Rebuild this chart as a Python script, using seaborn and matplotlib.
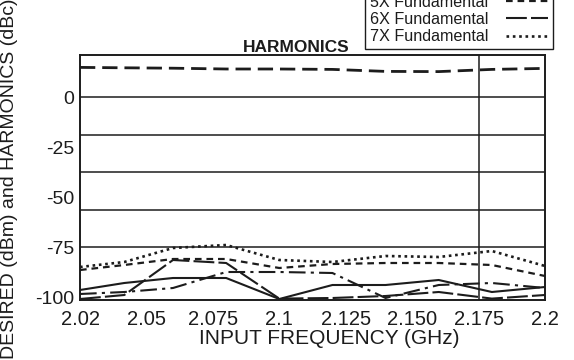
import numpy as np
import matplotlib
matplotlib.use("Agg")
import matplotlib.pyplot as plt
from matplotlib.lines import Line2D
import seaborn as sns

# Axis ticks: evenly spaced labels along the frequency axis
tick_freqs = [2.02, 2.05, 2.075, 2.1, 2.125, 2.150, 2.175, 2.2]
tick_labels = ["2.02", "2.05", "2.075", "2.1", "2.125", "2.150", "2.175", "2.2"]
y_ticks = [0, -25, -50, -75, -100]
y_tick_labels = ["0", "-25", "-50", "-75", "-100"]

# Measurement frequencies (GHz)
freq = [2.02, 2.04, 2.06, 2.08, 2.10, 2.12, 2.14, 2.16, 2.18, 2.20]

# Output levels
desired = [14.8, 14.6, 14.4, 14.0, 14.0, 13.8, 12.8, 12.7, 13.8, 14.3]
h3 = [-96.5, -93.0, -90.5, -90.5, -101.0, -94.0, -94.0, -91.5, -97.5, -95.0]
h4 = [-98.5, -97.5, -95.5, -87.5, -87.5, -88.0, -100.5, -94.0, -93.0, -95.5]
h5 = [-86.5, -84.0, -81.0, -81.0, -85.5, -83.5, -83.0, -83.0, -84.0, -89.5]
h6 = [-101.0, -99.0, -81.5, -83.0, -100.8, -100.5, -99.5, -97.5, -100.8, -99.0]
h7 = [-85.0, -82.5, -75.5, -74.0, -81.5, -82.5, -79.5, -80.0, -77.0, -84.5]

sns.set_theme(style="white")
plt.rcParams["font.family"] = ["Liberation Sans", "DejaVu Sans"]
ink = "#1c1c1c"

fig = plt.figure(figsize=(5.74, 3.6), dpi=100)
ax = fig.add_axes([80 / 574, 60 / 360, 465 / 574, 245 / 360])

# map frequencies onto the evenly spaced tick positions
tick_pos = np.arange(len(tick_freqs))
pos = np.interp(freq, tick_freqs, tick_pos)

# horizontal grid divides 0 .. -75 into four bands; one marker line at 2.175 GHz
for level in [0, -18.75, -37.5, -56.25, -75]:
    ax.axhline(level, color=ink, lw=1.1, zorder=1)
ax.axvline(6, color=ink, lw=1.1, zorder=1)

series = [
    ("Desired", desired, (0, (5.5, 2.5)), 2.0),
    ("3X Fundamental", h3, "-", 1.5),
    ("4X Fundamental", h4, (0, (8, 2.5, 1.5, 2.5)), 1.5),
    ("5X Fundamental", h5, (0, (3.0, 2.2)), 1.6),
    ("6X Fundamental", h6, (0, (10, 2.0)), 1.5),
    ("7X Fundamental", h7, (0, (1.0, 1.4)), 1.9),
]
for name, vals, ls, lw in series:
    sns.lineplot(x=pos, y=vals, ax=ax, color=ink, linewidth=lw,
                 linestyle=ls, legend=False, zorder=3)

ax.set_xlim(0, 7)
ax.set_ylim(-101.5, 21)
ax.set_xticks(tick_pos)
ax.set_xticklabels(tick_labels)
ax.set_yticks(y_ticks)
ax.set_yticklabels(y_tick_labels)
ax.tick_params(axis="x", length=0, pad=7, labelsize=14.5, labelcolor=ink)
ax.tick_params(axis="y", length=0, pad=4, labelsize=14, labelcolor=ink)
ax.set_xlabel("")
ax.set_ylabel("")
for sp in ax.spines.values():
    sp.set_color(ink)
    sp.set_linewidth(1.4)

fig.text(329.5 / 574, 1 - 338 / 360, "INPUT FREQUENCY (GHz)", ha="center",
         va="center", fontsize=15, color=ink)
fig.text(10 / 574, 1 - 179 / 360, "DESIRED (dBm) and HARMONICS (dBc)",
         rotation=90, ha="center", va="center", fontsize=14, color=ink)
fig.text(296.5 / 574, 1 - 47 / 360, "HARMONICS", ha="center", va="center",
         fontsize=12.5, fontweight="bold", color=ink)

handles = [Line2D([], [], color=ink, lw=lw, linestyle=ls) for _, _, ls, lw in series]
labels = [name for name, _, _, _ in series]
leg = ax.legend(handles, labels, loc="lower right",
                bbox_to_anchor=(553 / 574, 1 - 49 / 360),
                bbox_transform=fig.transFigure, borderaxespad=0,
                markerfirst=False, fontsize=11.6, labelspacing=0.13,
                handlelength=2.6, handletextpad=1.1, borderpad=0.3,
                fancybox=False, frameon=True, framealpha=1)
leg.get_frame().set_edgecolor(ink)
leg.get_frame().set_linewidth(1.0)
for t in leg.get_texts():
    t.set_color(ink)

fig.savefig("out.png", dpi=100)
